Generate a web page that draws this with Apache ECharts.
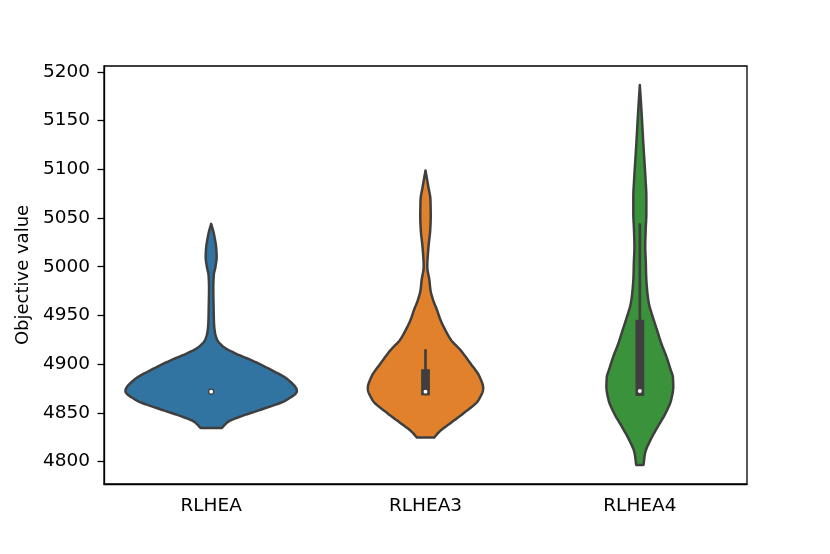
<!DOCTYPE html>
<html><head><meta charset="utf-8">
<script src="https://cdn.jsdelivr.net/npm/echarts@6/dist/echarts.min.js"></script>
<style>html,body{margin:0;padding:0;background:#fff}#chart{width:830px;height:554px}</style>
</head><body><div id="chart"></div>
<script>
// ---- data ----
const categories = ['RLHEA', 'RLHEA3', 'RLHEA4'];
const yTicks = [4800, 4850, 4900, 4950, 5000, 5050, 5100, 5150, 5200];
const yMin = 4777;
const yMax = 5206;

// density profiles (value, relative half-width), bottom to top
const rlheaValues  = [4834.6, 4841.0, 4846.2, 4853.0, 4863.3, 4872.5, 4883.9, 4894.1, 4904.4, 4911.5, 4918.0, 4925.0, 4932.0, 4942.0, 4960.0, 4978.0, 4991.0, 5000.0, 5010.0, 5020.0, 5030.0, 5038.0, 5044.0];
const rlheaDensity = [0.125, 0.20, 0.34, 0.57, 0.88, 1.0, 0.90, 0.70, 0.46, 0.27, 0.14, 0.07, 0.045, 0.033, 0.028, 0.025, 0.030, 0.050, 0.064, 0.058, 0.040, 0.020, 0.0];

const rlhea3Values  = [4824.6, 4830.8, 4839.4, 4849.6, 4863.3, 4875.3, 4887.2, 4900.9, 4914.6, 4924.8, 4935.0, 4945.3, 4955.6, 4966.0, 4976.0, 4986.4, 5000.0, 5020.5, 5037.6, 5051.3, 5068.4, 5082.1, 5098.7];
const rlhea3Density = [0.10, 0.163, 0.29, 0.444, 0.62, 0.673, 0.63, 0.523, 0.406, 0.298, 0.231, 0.175, 0.134, 0.088, 0.058, 0.045, 0.021, 0.035, 0.055, 0.061, 0.058, 0.033, 0.0];

const rlhea4Values  = [4796.6, 4808.6, 4822.3, 4835.9, 4849.6, 4863.3, 4876.9, 4887.0, 4894.1, 4907.7, 4921.4, 4935.1, 4948.7, 4962.5, 4976.0, 4990.0, 5003.5, 5020.5, 5037.6, 5054.8, 5071.8, 5088.9, 5123.1, 5157.3, 5186.4];
const rlhea4Density = [0.043, 0.061, 0.125, 0.21, 0.30, 0.365, 0.39, 0.385, 0.36, 0.31, 0.25, 0.20, 0.15, 0.105, 0.085, 0.074, 0.070, 0.063, 0.068, 0.076, 0.076, 0.067, 0.043, 0.021, 0.0];

// inner box statistics
const medians     = [4871.8, 4871.8, 4872.5];
const q1          = [4871.8, 4868.0, 4867.4];
const q3          = [4871.8, 4894.8, 4945.5];
const whiskerLow  = [4871.8, 4868.0, 4867.4];
const whiskerHigh = [4871.8, 4915.3, 5044.5];

const fillColors = ['#3274a1', '#e1812c', '#3a923a'];
const edgeColor = '#3f3f3f';

// ---- drawing helper: monotone cubic curve through the read profile ----
function smoothProfile(xs, ys, step) {
  const n = xs.length;
  const dx = [], m = [];
  for (let i = 0; i < n - 1; i++) { dx.push(xs[i + 1] - xs[i]); m.push((ys[i + 1] - ys[i]) / dx[i]); }
  const t = new Array(n);
  t[0] = m[0]; t[n - 1] = m[n - 2];
  for (let i = 1; i < n - 1; i++) {
    if (m[i - 1] * m[i] <= 0) t[i] = 0;
    else {
      const w1 = 2 * dx[i] + dx[i - 1], w2 = dx[i] + 2 * dx[i - 1];
      t[i] = (w1 + w2) / (w1 / m[i - 1] + w2 / m[i]);
    }
  }
  const out = [];
  for (let i = 0; i < n - 1; i++) {
    const h = dx[i];
    const k = Math.max(1, Math.ceil(h / step));
    for (let s = 0; s < k; s++) {
      const u = s / k, u2 = u * u, u3 = u2 * u;
      const y = (2 * u3 - 3 * u2 + 1) * ys[i] + (u3 - 2 * u2 + u) * h * t[i]
              + (-2 * u3 + 3 * u2) * ys[i + 1] + (u3 - u2) * h * t[i + 1];
      out.push([xs[i] + u * h, Math.max(0, y)]);
    }
  }
  out.push([xs[n - 1], ys[n - 1]]);
  return out;
}
const profiles = [
  smoothProfile(rlheaValues, rlheaDensity, 0.5),
  smoothProfile(rlhea3Values, rlhea3Density, 0.5),
  smoothProfile(rlhea4Values, rlhea4Density, 0.5)
];

const chart = echarts.init(document.getElementById('chart'), null, {renderer: 'canvas'});
const font = 'DejaVu Sans';
chart.setOption({
  backgroundColor: '#fff',
  animation: false,
  grid: {left: 104, right: 83, top: 66, bottom: 70, show: true, borderColor: '#000', borderWidth: 1.3, backgroundColor: 'transparent'},
  xAxis: {
    type: 'category', data: categories, boundaryGap: true,
    axisLine: {lineStyle: {color: '#000', width: 1.3}},
    axisTick: {alignWithLabel: true, length: 6.5, lineStyle: {color: '#000', width: 1.3}},
    axisLabel: {color: '#000', fontSize: 18.5, fontFamily: font, margin: 13},
    splitLine: {show: false}
  },
  yAxis: {
    type: 'value', min: yMin, max: yMax,
    axisLine: {show: true, lineStyle: {color: '#000', width: 1.3}},
    axisTick: {show: true, length: 6.5, customValues: yTicks, lineStyle: {color: '#000', width: 1.3}},
    axisLabel: {color: '#000', fontSize: 18.5, fontFamily: font, margin: 14, customValues: yTicks,
                formatter: v => String(v)},
    splitLine: {show: false},
    name: 'Objective value', nameLocation: 'middle', nameGap: 71,
    nameTextStyle: {color: '#000', fontSize: 18, fontFamily: font}
  },
  series: [{
    type: 'custom',
    data: categories.map((c, i) => [i, medians[i]]),
    encode: {x: 0, y: 1},
    renderItem: function (params, api) {
      const i = api.value(0);
      const band = api.size([1, 0])[0];
      const half = band * 0.4;
      const cx = api.coord([i, medians[i]])[0];
      const prof = profiles[i];
      const left = prof.map(p => [cx - p[1] * half, api.coord([i, p[0]])[1]]);
      const right = prof.slice().reverse().map(p => [cx + p[1] * half, api.coord([i, p[0]])[1]]);
      const yWl = api.coord([i, whiskerLow[i]])[1];
      const yWh = api.coord([i, whiskerHigh[i]])[1];
      const yQ1 = api.coord([i, q1[i]])[1];
      const yQ3 = api.coord([i, q3[i]])[1];
      const yMed = api.coord([i, medians[i]])[1];
      return {
        type: 'group',
        children: [
          {type: 'polygon', shape: {points: left.concat(right)},
           style: {fill: fillColors[i], stroke: edgeColor, lineWidth: 2.5, lineJoin: 'round'}},
          {type: 'line', shape: {x1: cx, y1: yWl, x2: cx, y2: yWh},
           style: {stroke: edgeColor, lineWidth: 2.7}},
          {type: 'rect', shape: {x: cx - 4.4, y: yQ3, width: 8.8, height: Math.max(0, yQ1 - yQ3)},
           style: {fill: edgeColor}},
          {type: 'circle', shape: {cx: cx, cy: yMed, r: 2.6},
           style: {fill: '#fff', stroke: edgeColor, lineWidth: 1.3}}
        ]
      };
    }
  }]
});
</script>
</body></html>
